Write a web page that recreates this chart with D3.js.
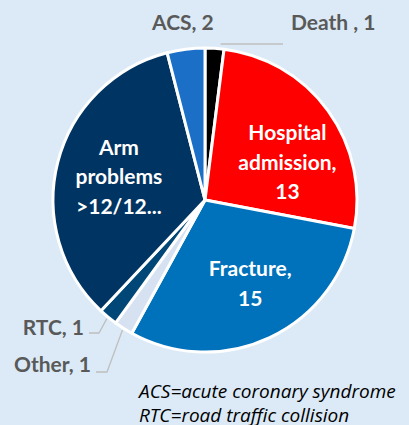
<!DOCTYPE html>
<html>
<head>
<meta charset="utf-8">
<script src="https://cdn.jsdelivr.net/npm/d3@7"></script>
<style>
  body { margin: 0; background: #dbeaf6; }
  svg { display: block; }
</style>
</head>
<body>
<div id="container"></div>
<script>
// data
const categories = ["Death", "Hospital admission", "Fracture", "Other", "RTC", "Arm problems >12/12...", "ACS"];
const values = [1, 13, 15, 1, 1, 17, 2];
const colors = ["#000000", "#ff0000", "#0072bb", "#d6e1f1", "#004777", "#003462", "#1b6fc6"];
// inside labels (lines of text); null = outside label
const insideLabels = [null, ["Hospital", "admission,", "13"], ["Fracture,", "15"], null, null, ["Arm", "problems", ">12/12..."], null];
const outsideLabels = ["Death , 1", null, null, "Other, 1", "RTC, 1", null, "ACS, 2"];
const footnotes = ["ACS=acute coronary syndrome", "RTC=road traffic collision"];

const width = 409;
const height = 425;
const cx = 205, cy = 200, radius = 152;

const svg = d3.select("#container").append("svg")
    .attr("width", width)
    .attr("height", height);

svg.append("rect").attr("width", width).attr("height", height).attr("fill", "#dbeaf6");

const pie = d3.pie().sort(null).value(d => d);
const arcs = pie(values);

const arc = d3.arc().innerRadius(0).outerRadius(radius);
const labelArc = d3.arc().innerRadius(92).outerRadius(92);

const g = svg.append("g").attr("transform", "translate(" + cx + "," + cy + ")");

g.selectAll("path.slice")
    .data(arcs)
    .enter()
    .append("path")
    .attr("class", "slice")
    .attr("d", arc)
    .attr("fill", (d, i) => colors[i])
    .attr("stroke", "#ffffff")
    .attr("stroke-width", 3)
    .attr("stroke-linejoin", "round");

//--------------------------inside labels--------------------------//
// small nudges where excel "best fit" moved the label
const nudge = [[0, 0], [8, 17], [6, 1], [0, 0], [0, 0], [3, 0], [0, 0]];
const lineH = 29.5;

arcs.forEach(function(d, i) {
    if (!insideLabels[i]) return;
    const c = labelArc.centroid(d);
    const lines = insideLabels[i];
    const t = g.append("text")
        .attr("text-anchor", "middle")
        .attr("fill", "#ffffff")
        .style("font-family", "Lato, 'Open Sans', sans-serif")
        .style("font-weight", "bold")
        .style("font-size", "21px");
    lines.forEach(function(s, k) {
        t.append("tspan")
            .attr("x", c[0] + nudge[i][0])
            .attr("y", c[1] + nudge[i][1] + (k - (lines.length - 1) / 2) * lineH + 7)
            .text(s);
    });
});

//--------------------------outside labels--------------------------//
const outStyle = t => t
    .attr("fill", "#595959")
    .style("font-family", "Lato, 'Open Sans', sans-serif")
    .style("font-weight", "bold")
    .style("font-size", "21px");

// label anchor positions (relative to centre)
const outPos = {
    0: { x: 86, y: -170, anchor: "start" },
    6: { x: -53, y: -170, anchor: "start" },
    4: { x: -121, y: 135, anchor: "end" },
    3: { x: -114, y: 172, anchor: "end" }
};
const leader = d3.line();

Object.keys(outPos).forEach(function(k) {
    const i = +k, p = outPos[k];
    outStyle(g.append("text"))
        .attr("x", p.x).attr("y", p.y)
        .attr("text-anchor", p.anchor)
        .text(outsideLabels[i]);
});

// leader lines, from slice edge to label
function edgePt(i) {
    const a = (arcs[i].startAngle + arcs[i].endAngle) / 2;
    return [Math.sin(a) * (radius + 2), -Math.cos(a) * (radius + 2)];
}
const leaders = [
    [[edgePt(0)[0] + 6, -156], [78, -156]],
    [edgePt(4), [-106, 133], [-116, 133]],
    [edgePt(3), [-98, 172], [-109, 172]]
];
leaders.forEach(function(pts) {
    g.append("path")
        .attr("d", leader(pts))
        .attr("fill", "none")
        .attr("stroke", "#bfbfbf")
        .attr("stroke-width", 1.3);
});

//---------------------------footnote-----------------------------//
svg.selectAll("text.note")
    .data(footnotes)
    .enter()
    .append("text")
    .attr("class", "note")
    .attr("x", 139)
    .attr("y", (d, i) => 398 + i * 24)
    .attr("fill", "#000000")
    .style("font-family", "'Open Sans', Lato, sans-serif")
    .style("font-style", "italic")
    .style("font-size", "19px")
    .text(d => d);
</script>
</body>
</html>
